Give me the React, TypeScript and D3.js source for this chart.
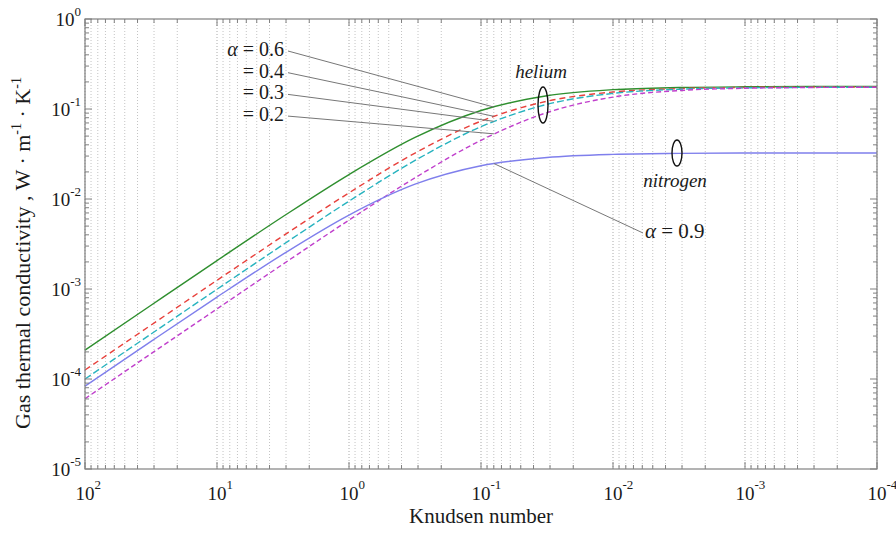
import React, { useEffect, useRef } from 'react';
import * as d3 from 'd3';

// Knudsen numbers (x) and gas thermal conductivity (y, W/m/K)
const knudsen = [100, 31.6, 10, 3.16, 1, 0.316, 0.1, 0.0316, 0.01, 0.00316, 0.001, 0.000316, 0.0001];
const heliumA06 = [2.09e-4, 6.6e-4, 2.07e-3, 6.39e-3, 0.0187, 0.0483, 0.0962, 0.1403, 0.164, 0.1733, 0.1765, 0.1775, 0.178];
const heliumA04 = [1.26e-4, 3.97e-4, 1.25e-3, 3.89e-3, 0.0117, 0.0324, 0.0733, 0.122, 0.1544, 0.1685, 0.1736, 0.1752, 0.1758];
const heliumA03 = [1.0e-4, 3.16e-4, 9.94e-4, 3.11e-3, 9.46e-3, 0.0268, 0.0636, 0.1127, 0.149, 0.1658, 0.172, 0.174, 0.1747];
const heliumA02 = [6.03e-5, 1.91e-4, 6.01e-4, 1.89e-3, 5.83e-3, 0.0172, 0.0449, 0.0913, 0.1357, 0.1603, 0.170, 0.1734, 0.1745];
const nitrogenA09 = [8.31e-5, 2.62e-4, 8.13e-4, 2.44e-3, 6.63e-3, 0.0146, 0.0234, 0.0289, 0.0313, 0.0321, 0.0324, 0.0325, 0.0325];

const xExponents = [2, 1, 0, -1, -2, -3, -4];
const yExponents = [0, -1, -2, -3, -4, -5];

// annotation anchors on the curves (Kn, k)
const anchorKn = 0.08;
const anchorValues = [0.105, 0.083, 0.073, 0.053];
const alphaValues = ['0.6', '0.4', '0.3', '0.2'];
const nitrogenAnchor = 0.0248;

const series = [
  { name: 'He a=0.6', values: heliumA06, color: '#2f8f2f', dash: null },
  { name: 'He a=0.4', values: heliumA04, color: '#e8413c', dash: '6,4' },
  { name: 'He a=0.3', values: heliumA03, color: '#27b3bf', dash: '7,3' },
  { name: 'He a=0.2', values: heliumA02, color: '#c03fcc', dash: '5,3' },
  { name: 'N2 a=0.9', values: nitrogenA09, color: '#7f7fec', dash: null },
];

const W = 896, H = 533;
const left = 85, right = 877, top = 19, bottom = 469;
const serif = '"Liberation Serif", "Times New Roman", serif';

const draw = (node) => {
  const svg = d3.select(node);
  svg.selectAll('*').remove();

  const x = d3.scaleLog().domain([100, 0.0001]).range([left, right]);
  const y = d3.scaleLog().domain([1e-5, 1]).range([bottom, top]);

  // vertical dotted grid
  const minor = [];
  xExponents.forEach(e => {
    for (let m = 1; m <= 9; m++) {
      const v = m * Math.pow(10, e);
      if (v <= 100.0001 && v >= 0.0001) minor.push({ v, major: m === 1 });
    }
  });
  svg.append('g').selectAll('line').data(minor).join('line')
    .attr('x1', d => x(d.v)).attr('x2', d => x(d.v))
    .attr('y1', top).attr('y2', bottom)
    .attr('stroke', d => d.major ? '#aaa' : '#c4c4c4')
    .attr('stroke-width', 1)
    .attr('stroke-dasharray', '1,2');

  // curves
  const line = d3.line()
    .x((d, i) => x(knudsen[i]))
    .y(d => y(d))
    .curve(d3.curveMonotoneX);

  svg.append('g').selectAll('path').data(series).join('path')
    .attr('fill', 'none')
    .attr('stroke', d => d.color)
    .attr('stroke-width', 1.4)
    .attr('stroke-dasharray', d => d.dash)
    .attr('d', d => line(d.values));

  // frame
  svg.append('rect')
    .attr('x', left).attr('y', top)
    .attr('width', right - left).attr('height', bottom - top)
    .attr('fill', 'none').attr('stroke', '#808080').attr('stroke-width', 1.2);

  // ticks
  const tk = svg.append('g').attr('stroke', '#808080').attr('stroke-width', 1);
  minor.forEach(d => {
    const len = d.major ? 7 : 4;
    const px = x(d.v);
    tk.append('line').attr('x1', px).attr('x2', px).attr('y1', bottom).attr('y2', bottom - len);
    tk.append('line').attr('x1', px).attr('x2', px).attr('y1', top).attr('y2', top + len);
  });
  yExponents.forEach(e => {
    for (let m = 1; m <= 9; m++) {
      const v = m * Math.pow(10, e);
      if (v > 1.0001) continue;
      const len = m === 1 ? 7 : 4;
      const py = y(v);
      tk.append('line').attr('x1', left).attr('x2', left + len).attr('y1', py).attr('y2', py);
      tk.append('line').attr('x1', right).attr('x2', right - len).attr('y1', py).attr('y2', py);
    }
  });

  // tick labels
  const lab = svg.append('g').attr('font-family', serif).attr('fill', '#1a1a1a');
  xExponents.forEach(e => {
    const px = x(Math.pow(10, e));
    lab.append('text').attr('x', px).attr('y', 500).attr('text-anchor', 'middle')
      .attr('font-size', 19).text('10');
    lab.append('text').attr('x', px + 9.5).attr('y', 489).attr('font-size', 13).text(String(e));
  });
  yExponents.forEach(e => {
    const py = y(Math.pow(10, e));
    const t = lab.append('text').attr('x', 81).attr('y', py + 7).attr('text-anchor', 'end');
    t.append('tspan').attr('font-size', 19).text('10');
    t.append('tspan').attr('font-size', 13).attr('dy', -10).text(String(e));
  });

  // axis titles
  lab.append('text').attr('x', 481).attr('y', 523)
    .attr('text-anchor', 'middle').attr('font-size', 21).text('Knudsen number');

  const yt = lab.append('text')
    .attr('transform', `translate(30, 253) rotate(-90)`)
    .attr('text-anchor', 'middle').attr('font-size', 22);
  yt.append('tspan').text('Gas thermal conductivity , W · m');
  yt.append('tspan').attr('font-size', 14).attr('dy', -9).text('-1');
  yt.append('tspan').attr('dy', 9).text(' · K');
  yt.append('tspan').attr('font-size', 14).attr('dy', -9).text('-1');

  // alpha annotations for helium
  const ann = svg.append('g').attr('font-family', serif).attr('fill', '#1a1a1a');
  alphaValues.forEach((a, i) => {
    const ty = 56 + i * 21.7;
    const t = ann.append('text').attr('x', 284).attr('y', ty).attr('text-anchor', 'end').attr('font-size', 20);
    if (i === 0) t.append('tspan').attr('font-style', 'italic').text('α ');
    t.append('tspan').text('= ' + a);
    ann.append('line')
      .attr('x1', 288).attr('y1', ty - 5)
      .attr('x2', x(anchorKn)).attr('y2', y(anchorValues[i]))
      .attr('stroke', '#777').attr('stroke-width', 1);
  });

  // nitrogen alpha annotation
  ann.append('line')
    .attr('x1', x(anchorKn)).attr('y1', y(nitrogenAnchor))
    .attr('x2', 643).attr('y2', 233)
    .attr('stroke', '#777').attr('stroke-width', 1);
  const t9 = ann.append('text').attr('x', 645).attr('y', 238).attr('font-size', 21);
  t9.append('tspan').attr('font-style', 'italic').text('α');
  t9.append('tspan').text('  = 0.9');

  // gas ellipses and names
  ann.append('ellipse').attr('cx', 543).attr('cy', 105).attr('rx', 5).attr('ry', 18)
    .attr('fill', 'none').attr('stroke', '#111').attr('stroke-width', 1.4);
  ann.append('text').attr('x', 541).attr('y', 78).attr('text-anchor', 'middle')
    .attr('font-size', 19).attr('font-style', 'italic').text('helium');
  ann.append('ellipse').attr('cx', 677).attr('cy', 153).attr('rx', 5).attr('ry', 13)
    .attr('fill', 'none').attr('stroke', '#111').attr('stroke-width', 1.4);
  ann.append('text').attr('x', 675).attr('y', 187).attr('text-anchor', 'middle')
    .attr('font-size', 19).attr('font-style', 'italic').text('nitrogen');
};

const App = () => {
  const ref = useRef(null);
  useEffect(() => {
    document.body.style.margin = '0';
    draw(ref.current);
  }, []);
  return <svg ref={ref} width={W} height={H} style={{ display: 'block', background: '#fff' }} />;
};

export default App;
